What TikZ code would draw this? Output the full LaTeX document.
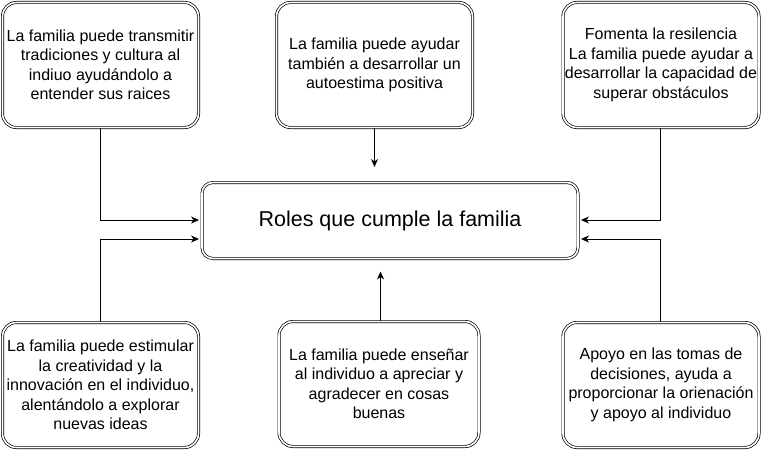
\documentclass[tikz,border=0pt]{standalone}
\usepackage{fontspec}
\setmainfont{Liberation Sans}
\usetikzlibrary{arrows.meta}
\tikzset{
  box/.style={draw, double, double distance=1.6pt, line width=0.7pt,
    rounded corners=14pt, align=center, inner sep=0pt,
    minimum width=196pt, minimum height=125pt,
    font=\fontsize{16}{19.5}\selectfont},
  mainbox/.style={box, rounded corners=11pt, minimum width=376pt, minimum height=76pt,
    font=\fontsize{21.5}{25}\selectfont},
  conn/.style={line width=0.8pt, -{Stealth[length=8pt,width=7pt,inset=2.5pt]}}
}
\begin{document}
\begin{tikzpicture}[x=1pt,y=-1pt]
\useasboundingbox (0,0) rectangle (761,452);
\node[mainbox] (c) at (390,220.5) {Roles que cumple la familia};
\node[box] (tl) at (100.5,65) {La familia puede transmitir\\tradiciones y cultura al\\indiuo ayudándolo a\\entender sus raices};
\node[box] (tm) at (374.5,65) {La familia puede ayudar\\también a desarrollar un\\autoestima positiva};
\node[box] (tr) at (661,65) {Fomenta la resilencia\\La familia puede ayudar a\\desarrollar la capacidad de\\superar obstáculos};
\node[box] (bl) at (100.5,385) {La familia puede estimular\\la creatividad y la\\innovación en el individuo,\\alentándolo a explorar\\nuevas ideas};
\node[box, minimum width=200pt] (bm) at (379,384) {La familia puede enseñar\\al individuo a apreciar y\\agradecer en cosas\\buenas};
\node[box] (br) at (661,385) {Apoyo en las tomas de\\decisiones, ayuda a\\proporcionar la orienación\\y apoyo al individuo};
\coordinate (cl1) at (199,220);
\coordinate (cl2) at (199,239);
\coordinate (cr1) at (581,220);
\coordinate (cr2) at (581,239);
\coordinate (ct) at (374.5,167);
\coordinate (cb) at (380.5,271.5);
\draw[conn] (tl.south) |- (cl1);
\draw[conn] (bl.north) |- (cl2);
\draw[conn] ([xshift=-1pt]tr.south) |- (cr1);
\draw[conn] ([xshift=-1pt]br.north) |- (cr2);
\draw[conn] (tm.south) -- (ct);
\draw[conn] (bm.north -| cb) -- (cb);
\end{tikzpicture}
\end{document}
